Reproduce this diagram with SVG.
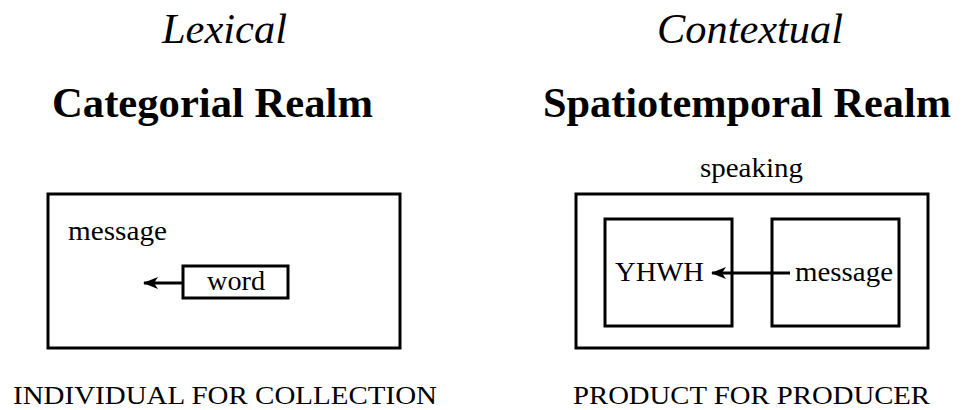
<svg xmlns="http://www.w3.org/2000/svg" width="966" height="410" viewBox="0 0 966 410">
  <style>
    text { font-family: "Liberation Serif", "Times New Roman", serif; fill: #000; }
    .kind { font-style: italic; font-size: 42px; }
    .realm { font-weight: bold; font-size: 43px; }
    .label { font-size: 27px; }
    .caption { font-size: 25px; }
    .box { fill: none; stroke: #000; stroke-width: 3; }
    .link { fill: none; stroke: #000; stroke-width: 3; marker-end: url(#head); }
  </style>
  <defs>
    <marker id="head" viewBox="0 0 15 12" refX="14" refY="6" markerWidth="15" markerHeight="12" orient="auto" markerUnits="userSpaceOnUse">
      <path d="M0,0 L15,6 L0,12 L4,6 Z" fill="#000"/>
    </marker>
  </defs>
  <rect width="966" height="410" fill="#fff"/>

  <!-- headings -->
  <text class="kind" x="162" y="43" textLength="125" lengthAdjust="spacingAndGlyphs">Lexical</text>
  <text class="kind" x="657" y="43" textLength="186" lengthAdjust="spacingAndGlyphs">Contextual</text>
  <text class="realm" x="52" y="117" textLength="321" lengthAdjust="spacingAndGlyphs">Categorial Realm</text>
  <text class="realm" x="543" y="117" textLength="408" lengthAdjust="spacingAndGlyphs">Spatiotemporal Realm</text>

  <!-- categorial realm -->
  <g id="message-lexical">
    <rect class="box" x="48" y="194" width="352" height="154"/>
    <text class="label" x="68" y="240" textLength="99" lengthAdjust="spacingAndGlyphs">message</text>
  </g>
  <g id="word">
    <rect class="box" x="183" y="266" width="105" height="32"/>
    <text class="label" x="207" y="290" textLength="58" lengthAdjust="spacingAndGlyphs">word</text>
  </g>

  <!-- spatiotemporal realm -->
  <g id="speaking">
    <rect class="box" x="576" y="194" width="352" height="154"/>
    <text class="label" x="700" y="177" textLength="103" lengthAdjust="spacingAndGlyphs">speaking</text>
  </g>
  <g id="yhwh">
    <rect class="box" x="605" y="219" width="127" height="107"/>
    <text class="label" x="615" y="281" textLength="89" lengthAdjust="spacingAndGlyphs">YHWH</text>
  </g>
  <g id="message-contextual">
    <rect class="box" x="772" y="219" width="127" height="107"/>
    <text class="label" x="795" y="281" textLength="98" lengthAdjust="spacingAndGlyphs">message</text>
  </g>

  <g id="connectors">
    <line class="link" x1="184" y1="283" x2="144" y2="283"/>
    <line class="link" x1="790" y1="273" x2="712" y2="273"/>
  </g>

  <!-- captions -->
  <text class="caption" x="13" y="404" textLength="424" lengthAdjust="spacingAndGlyphs">INDIVIDUAL FOR COLLECTION</text>
  <text class="caption" x="573" y="404" textLength="357" lengthAdjust="spacingAndGlyphs">PRODUCT FOR PRODUCER</text>
</svg>
